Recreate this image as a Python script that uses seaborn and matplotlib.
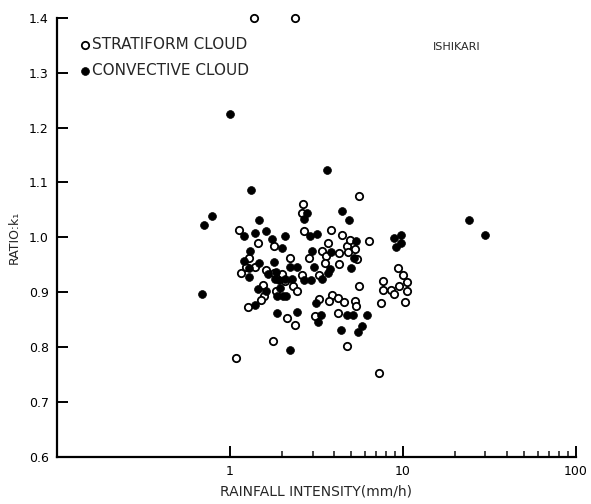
import numpy as np
import pandas as pd
import matplotlib
matplotlib.use("Agg")
import matplotlib.pyplot as plt
from matplotlib.ticker import FixedLocator, NullFormatter
import seaborn as sns

# Stratiform cloud (open circles)
strat_x = [1.38, 2.39, 5.57, 2.66, 2.60, 1.13, 2.67, 3.85, 4.46, 6.34, 1.45, 1.80, 3.70,
           4.77, 4.97, 5.26, 3.41, 4.26, 4.83, 1.28, 2.21, 2.85, 3.57, 5.42, 3.55, 4.26,
           1.23, 1.39, 1.61, 1.16, 1.79, 2.00, 2.60, 3.26, 2.07, 9.39, 9.96, 7.62, 10.55,
           1.56, 2.30, 5.60, 1.84, 2.44, 7.68, 8.55, 8.87, 9.48, 10.6, 1.57, 3.88, 3.29,
           3.73, 4.21, 4.56, 5.31, 5.38, 1.51, 1.27, 7.48, 10.27, 3.12, 4.19, 2.15, 2.38,
           1.77, 4.74, 1.08, 7.25]
strat_y = [1.400, 1.400, 1.075, 1.061, 1.044, 1.013, 1.011, 1.013, 1.005, 0.993, 0.990, 0.984, 0.990,
           0.985, 0.996, 0.979, 0.975, 0.972, 0.973, 0.962, 0.962, 0.963, 0.967, 0.960, 0.953, 0.951,
           0.946, 0.946, 0.941, 0.936, 0.935, 0.934, 0.931, 0.931, 0.920, 0.945, 0.932, 0.921, 0.919,
           0.914, 0.912, 0.911, 0.903, 0.903, 0.905, 0.905, 0.897, 0.912, 0.903, 0.8925, 0.896, 0.888,
           0.885, 0.889, 0.882, 0.885, 0.876, 0.8865, 0.874, 0.880, 0.883, 0.857, 0.862, 0.854, 0.840,
           0.811, 0.802, 0.780, 0.753]

# Convective cloud (filled circles)
conv_x = [1.00, 3.65, 1.32, 4.46, 4.87, 2.79, 2.68, 0.79, 1.47, 0.71, 1.21, 1.40, 1.61, 2.08,
          1.76, 2.00, 2.92, 3.19, 5.38, 8.87, 9.74, 9.74, 9.11, 1.30, 2.99, 3.85, 1.21, 1.47,
          1.80, 5.21, 1.28, 1.65, 1.84, 2.23, 2.43, 3.07, 3.80, 3.68, 5.03, 1.29, 1.82, 1.93,
          2.09, 2.29, 2.67, 2.95, 3.41, 1.46, 1.61, 1.95, 2.03, 1.86, 2.10, 0.69, 1.40, 3.16,
          1.86, 2.43, 3.34, 3.23, 4.74, 5.14, 6.23, 4.36, 5.78, 5.53, 2.21, 24.0, 30.0]
conv_y = [1.224, 1.122, 1.087, 1.048, 1.032, 1.045, 1.034, 1.039, 1.031, 1.022, 1.002, 1.008, 1.011, 1.003,
          0.997, 0.980, 1.002, 1.007, 0.993, 0.998, 1.004, 0.990, 0.982, 0.9745, 0.975, 0.973, 0.957, 0.954,
          0.956, 0.963, 0.945, 0.934, 0.937, 0.946, 0.946, 0.946, 0.943, 0.935, 0.945, 0.928, 0.9235, 0.922,
          0.924, 0.9235, 0.923, 0.922, 0.9235, 0.9065, 0.902, 0.9076, 0.894, 0.8925, 0.8925, 0.897, 0.877, 0.880,
          0.8615, 0.865, 0.858, 0.846, 0.859, 0.859, 0.859, 0.832, 0.838, 0.827, 0.795, 1.031, 1.004]

y_ticks = [0.6, 0.7, 0.8, 0.9, 1.0, 1.1, 1.2, 1.3, 1.4]
y_tick_labels = ["0.6", "0.7", "0.8", "0.9", "1.0", "1.1", "1.2", "1.3", "1.4"]
x_ticks = [1, 10, 100]
x_tick_labels = ["1", "10", "100"]
x_minor = [2, 3, 4, 5, 6, 7, 8, 9, 20, 30, 40, 50, 60, 70, 80, 90]

strat = pd.DataFrame({"x": strat_x, "y": strat_y})
conv = pd.DataFrame({"x": conv_x, "y": conv_y})

sns.set_style("ticks")
plt.rcParams["font.family"] = ["DejaVu Sans"]

fig = plt.figure(figsize=(5.91, 5.04), dpi=100)
ax = fig.add_axes([0.0965, 0.093, 0.878, 0.872])

sns.scatterplot(data=strat, x="x", y="y", ax=ax, marker="o", s=28,
                facecolor="white", edgecolor="black", linewidth=1.3,
                label="STRATIFORM CLOUD", clip_on=False, zorder=3)
sns.scatterplot(data=conv, x="x", y="y", ax=ax, marker="o", s=32,
                color="black", edgecolor="black", linewidth=0.5,
                label="CONVECTIVE CLOUD", clip_on=False, zorder=3)

ax.set_xscale("log")
ax.set_xlim(0.1, 100)
ax.set_ylim(0.6, 1.4)
ax.xaxis.set_major_locator(FixedLocator(x_ticks))
ax.set_xticklabels(x_tick_labels)
ax.xaxis.set_minor_locator(FixedLocator(x_minor))
ax.xaxis.set_minor_formatter(NullFormatter())
ax.set_yticks(y_ticks)
ax.set_yticklabels(y_tick_labels)

for side in ["top", "right"]:
    ax.spines[side].set_visible(False)
for side in ["left", "bottom"]:
    ax.spines[side].set_linewidth(1.6)
    ax.spines[side].set_color("black")

ax.tick_params(axis="both", which="major", direction="in", length=8, width=1.4,
               labelsize=9, colors="black", pad=6)
ax.tick_params(axis="x", which="minor", direction="in", length=4, width=1.2)

ax.set_xlabel("RAINFALL INTENSITY(mm/h)", fontsize=10, labelpad=4)
ax.set_ylabel("RATIO:k\u2081", fontsize=9, labelpad=6)

ax.text(0.77, 0.933, "ISHIKARI", transform=ax.transAxes, fontsize=8,
        ha="center", va="center")

leg = ax.legend(loc="upper left", bbox_to_anchor=(0.03, 0.97), frameon=False,
                handletextpad=0.1, handlelength=0.8, fontsize=11,
                borderaxespad=0, labelspacing=0.75)

fig.savefig("out.png", dpi=100)
